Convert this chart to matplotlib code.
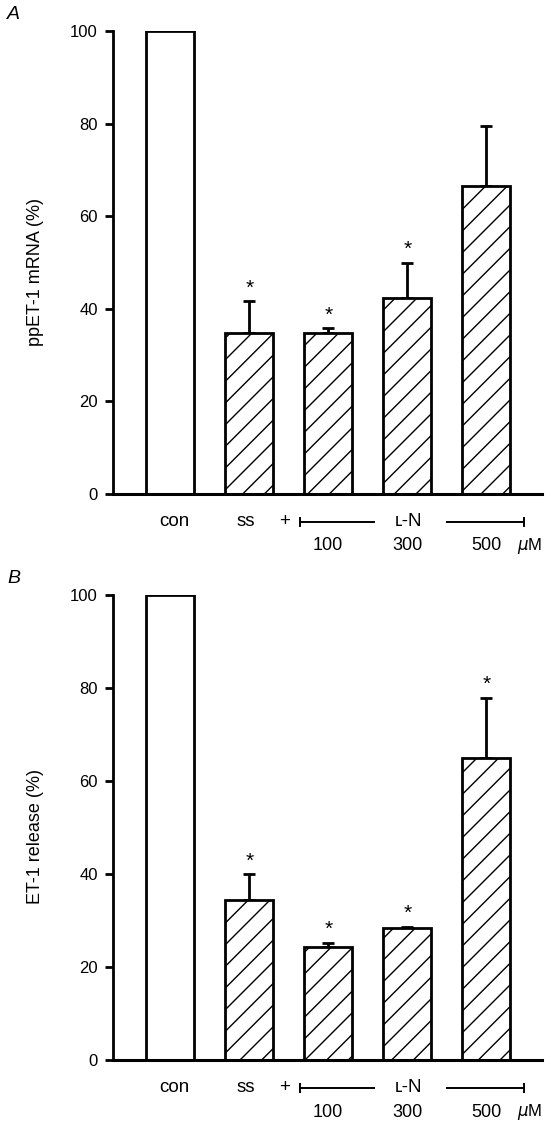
import numpy as np
import matplotlib.pyplot as plt
from matplotlib.transforms import blended_transform_factory

# low dpi so the default hatch spacing comes out close to the reference;
# all point sizes are scaled back up by S
DPI = 65
S = 100.0 / DPI

plt.rcParams["font.family"] = ["Liberation Sans", "DejaVu Sans"]
plt.rcParams["hatch.linewidth"] = 1.0 * S

groups = ["con", "ss", "100", "300", "500"]

# panel A: ppET-1 mRNA (%)
mrna_mean = [100, 34.8, 34.8, 42.3, 66.6]
mrna_err = [0, 6.8, 1.0, 7.6, 12.8]
mrna_star = [False, True, True, True, False]

# panel B: ET-1 release (%)
rel_mean = [100, 34.5, 24.4, 28.4, 65.0]
rel_err = [0, 5.4, 0.8, 0.3, 12.9]
rel_star = [False, True, True, True, True]

yticks = [0, 20, 40, 60, 80, 100]


def drawPanel(ax, mean, err, star, ylabel, letter):
    x = np.arange(len(mean))
    hatches = [""] + ["/"] * (len(mean) - 1)
    for i in x:
        ax.bar(x[i], mean[i], width=0.61, color="white", edgecolor="black",
               linewidth=2.0 * S, hatch=hatches[i], zorder=2)
        if err[i] > 0:
            ax.errorbar(x[i], mean[i], yerr=[[0], [err[i]]], fmt="none",
                        ecolor="black", elinewidth=2.0 * S, capsize=4.5 * S,
                        capthick=2.0 * S, zorder=1)
        if star[i]:
            ax.text(x[i], mean[i] + err[i] + 0.8, "*", ha="center",
                    va="bottom", fontsize=15 * S)

    ax.set_xlim(-0.725, 4.70)
    ax.set_ylim(0, 100)
    ax.set_yticks(yticks)
    ax.set_yticklabels([str(t) for t in yticks], fontsize=12 * S)
    ax.set_xticks([])
    ax.spines["top"].set_visible(False)
    ax.spines["right"].set_visible(False)
    ax.spines["left"].set_linewidth(2.0 * S)
    ax.spines["bottom"].set_linewidth(2.2 * S)
    ax.tick_params(axis="y", direction="out", length=5.5 * S, width=2.0 * S, pad=5.5 * S)
    ax.set_ylabel(ylabel, fontsize=13 * S)
    ax.yaxis.set_label_coords(-0.161, 0.48)

    tr = blended_transform_factory(ax.transData, ax.transAxes)
    y1, y2 = -0.06, -0.112
    fs = 13.5 * S
    ax.text(0.05, y1, "con", transform=tr, ha="center", va="center", fontsize=fs)
    ax.text(0.95, y1, "ss", transform=tr, ha="center", va="center", fontsize=fs)
    ax.text(1.44, y1, "+", transform=tr, ha="center", va="center", fontsize=fs)
    ax.text(3.02, y1, "ʟ-N", transform=tr, ha="center", va="center", fontsize=fs)
    for xi, lab in zip([1.99, 3.0, 4.0], groups[2:]):
        ax.text(xi, y2, lab, transform=tr, ha="center", va="center", fontsize=13 * S)
    ax.text(4.55, y2, r"$\mu$M", transform=tr, ha="center", va="center", fontsize=12 * S)

    # bracket for L-N doses
    lw = 1.4 * S
    ax.plot([1.64, 2.58], [y1, y1], color="black", lw=lw, transform=tr, clip_on=False)
    ax.plot([1.64, 1.64], [y1 - 0.009, y1 + 0.009], color="black", lw=lw,
            transform=tr, clip_on=False)
    ax.plot([3.50, 4.48], [y1, y1], color="black", lw=lw, transform=tr, clip_on=False)
    ax.plot([4.48, 4.48], [y1 - 0.009, y1 + 0.009], color="black", lw=lw,
            transform=tr, clip_on=False)

    ax.text(-0.247, 1.035, letter, transform=ax.transAxes, fontsize=14 * S,
            style="italic", ha="left", va="center")


fig = plt.figure(figsize=(552 / DPI, 1132 / DPI), dpi=DPI, facecolor="white")
axA = fig.add_axes([0.2047, 0.5636, 0.7766, 0.409])
axB = fig.add_axes([0.2047, 0.0636, 0.7766, 0.4108])

drawPanel(axA, mrna_mean, mrna_err, mrna_star, "ppET-1 mRNA (%)", "A")
drawPanel(axB, rel_mean, rel_err, rel_star, "ET-1 release (%)", "B")

fig.savefig("out.png", dpi=DPI, facecolor="white")
